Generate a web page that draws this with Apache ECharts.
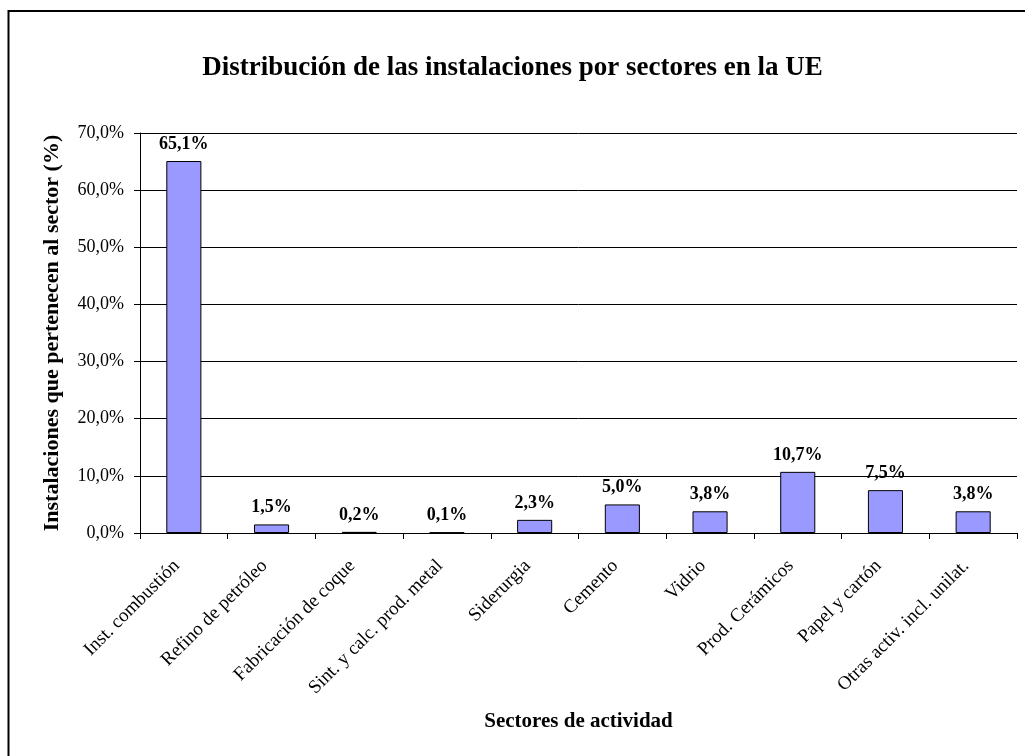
<!DOCTYPE html>
<html>
<head>
<meta charset="utf-8">
<script src="https://cdn.jsdelivr.net/npm/echarts@6/dist/echarts.min.js"></script>
<style>
html,body{margin:0;padding:0;background:#fff;}
#chart{width:1025px;height:756px;}
</style>
</head>
<body>
<div id="chart"></div>
<script>
var categories = ["Inst. combustión","Refino de petróleo","Fabricación de coque","Sint. y calc. prod. metal","Siderurgia","Cemento","Vidrio","Prod. Cerámicos","Papel y cartón","Otras activ. incl. unilat."];
var values = [65.1, 1.5, 0.2, 0.1, 2.3, 5.0, 3.8, 10.7, 7.5, 3.8];
var yTicks = [0, 10, 20, 30, 40, 50, 60, 70];

var FONT = '"Liberation Serif", "Times New Roman", serif';
function pct(v){ return v.toFixed(1).replace('.', ',') + '%'; }

var chart = echarts.init(document.getElementById('chart'), null, {renderer:'canvas'});
chart.setOption({
  animation:false,
  backgroundColor:'#fff',
  title:{
    text:'Distribución de las instalaciones por sectores en la UE',
    left:'center', top:50,
    textStyle:{fontFamily:FONT, fontSize:27, fontWeight:'bold', color:'#000'}
  },
  graphic:[{
    type:'rect', silent:true,
    shape:{x:8.5, y:11, width:1040, height:780},
    style:{fill:'none', stroke:'#000', lineWidth:2}
  }],
  grid:{left:140, right:8, top:133, bottom:223, containLabel:false},
  xAxis:{
    type:'category', data:categories,
    name:'Sectores de actividad', nameLocation:'middle', nameGap:178,
    nameTextStyle:{fontFamily:FONT, fontSize:21, fontWeight:'bold', color:'#000'},
    axisLine:{lineStyle:{color:'#000', width:1}},
    axisTick:{show:true, alignWithLabel:false, length:6, lineStyle:{color:'#000'}},
    axisLabel:{rotate:45, margin:23, padding:[0,10,0,0], fontFamily:FONT, fontSize:19, color:'#000', interval:0}
  },
  yAxis:{
    type:'value', min:yTicks[0], max:yTicks[yTicks.length-1], interval:10,
    name:'Instalaciones que pertenecen al sector (%)', nameLocation:'middle', nameGap:77,
    nameTextStyle:{fontFamily:FONT, fontSize:22, fontWeight:'bold', color:'#000'},
    axisLine:{show:true, lineStyle:{color:'#000', width:1}},
    axisTick:{show:true, length:6, lineStyle:{color:'#000'}},
    splitLine:{show:true, lineStyle:{color:'#000', width:1}},
    axisLabel:{fontFamily:FONT, fontSize:18, color:'#000', margin:16, formatter:function(v){return pct(v);}}
  },
  series:[{
    type:'bar', data:values, barWidth:'40%',
    itemStyle:{color:'#9999FF', borderColor:'#000', borderWidth:1},
    label:{show:true, position:'top', distance:8, fontFamily:FONT, fontSize:18, fontWeight:'bold', color:'#000',
      formatter:function(p){return pct(p.value);}}
  }]
});
</script>
</body>
</html>
